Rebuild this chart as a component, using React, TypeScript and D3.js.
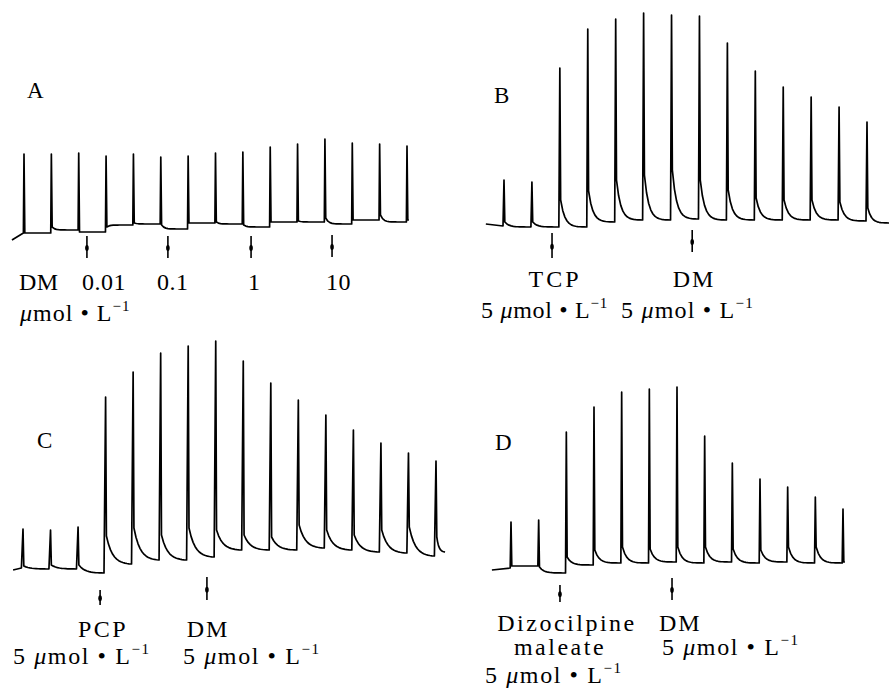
import React from "react";
import * as d3 from "d3";

// Isolated ileum contractions, levels in recording units (0 = zero line of each panel)
// A: DM alone, cumulative 0.01 - 10 umol/L
const aPeaks = [36.4, 36.4, 36.8, 35.6, 36.4, 35.2, 35.6, 36.8, 37.2, 39.2, 40.4, 42.4, 40.8, 40.4, 39.6];
const aTroughs = [4.8, 4.8, 6, 5.2, 8, 8.4, 6.4, 8.8, 8.4, 7.2, 9.2, 9.2, 8.4, 10, 9.2];
const aShoulders = [4.8, 7.2, 5.2, 7.2, 8.8, 8, 8.8, 9.2, 8, 9.2, 9.6, 10.8, 10, 12, 10];
const aMarks = [2.3, 5.26, 8.3, 11.26];
const aDoses = ["DM", "0.01", "0.1", "1", "10"];

// B: TCP then DM
const bPeaks = [22, 21.2, 66.8, 82.4, 86.4, 88.8, 88, 87.6, 76.8, 65.6, 59.2, 55.2, 51.2, 45.2];
const bTroughs = [3.6, 3.2, 3.2, 3.2, 5.2, 6, 6, 6.4, 6, 6, 6, 6, 6, 5.6];
const bShoulders = [5.2, 5.2, 14, 17.6, 22, 24, 26, 22, 18, 14.8, 14, 14, 13.2, 10.8];
const bMarks = [1.72, 6.74];
const bDrugs = ["TCP", "DM"];

// C: PCP then DM
const cPeaks = [20.4, 20, 21.2, 73.2, 83.2, 90.8, 93.6, 95.6, 87.6, 78.8, 72, 66, 60, 54.8, 50.8, 47.6];
const cTroughs = [4.8, 4.4, 4.4, 2.8, 6.4, 8, 8, 9.2, 12, 12, 12, 12.8, 12, 11.2, 10.8, 9.6];
const cShoulders = [5.6, 6, 6, 17.6, 20.8, 18, 20.8, 20, 18, 17.2, 22, 20, 18, 20, 21.2, 17.2];
const cMarks = [2.8, 6.68];
const cDrugs = ["PCP", "DM"];

// D: dizocilpine maleate then DM
const dPeaks = [23.2, 24, 59.2, 69.2, 75.2, 76.4, 77.2, 57.6, 46.8, 40.4, 37.2, 33.2, 28.4];
const dTroughs = [4.8, 5.6, 2.8, 6, 6.8, 6.8, 7.2, 6.8, 7.2, 6.8, 7.2, 6.8, 6.8];
const dShoulders = [5.6, 5.2, 9.2, 12, 13.2, 12.4, 13.2, 13.2, 12.4, 12, 13.2, 13.2, 7.2];
const dMarks = [1.77, 5.82];
const dDrugs = ["Dizocilpine", "maleate", "DM"];

const W = 889;
const H = 688;
const FONT = "'Liberation Serif', 'DejaVu Serif', serif";

type Panel = {
  peaks: number[];
  troughs: number[];
  shoulders: number[];
  marks: number[];
  first: number; // px of first spike
  last: number; // px of last spike
  zero: number; // px of zero line
  start: [number, number];
  end: [number, number];
  decay: number;
  rise: number;
  markTop: number[];
  markBottom: number[];
};

const panels: Panel[] = [
  { peaks: aPeaks, troughs: aTroughs, shoulders: aShoulders, marks: aMarks,
    first: 24, last: 407, zero: 245, start: [-0.44, 2], end: [14.07, 10],
    decay: 9, rise: 0.6, markTop: [-9, -9, -9, -10], markBottom: [13, 13, 13, 12] },
  { peaks: bPeaks, troughs: bTroughs, shoulders: bShoulders, marks: bMarks,
    first: 504, last: 867, zero: 235, start: [-0.65, 4.4], end: [13.84, 4.8],
    decay: 6, rise: 1, markTop: [-2, -5], markBottom: [23, 17] },
  { peaks: cPeaks, troughs: cTroughs, shoulders: cShoulders, marks: cMarks,
    first: 23, last: 436, zero: 580, start: [-0.36, 4], end: [15.33, 11.2],
    decay: 4, rise: 1.6, markTop: [10, -3], markBottom: [25, 20] },
  { peaks: dPeaks, troughs: dTroughs, shoulders: dShoulders, marks: dMarks,
    first: 511, last: 843, zero: 580, start: [-0.69, 4], end: [12.07, 7.2],
    decay: 6, rise: 0.8, markTop: [5, -2], markBottom: [22, 20] },
];

function tracePath(p: Panel) {
  const n = p.peaks.length;
  const x = d3.scaleLinear().domain([0, n - 1]).range([p.first, p.last]);
  const y = d3.scaleLinear().domain([0, 100]).range([p.zero, p.zero - 250]);
  const pts: [number, number][] = [[x(p.start[0]), y(p.start[1])]];
  for (let i = 0; i < n; i++) {
    const xi = x(i);
    pts.push([xi - p.rise, y(p.troughs[i])]);
    pts.push([xi, y(p.peaks[i])]);
    const fx = xi + 0.8;
    pts.push([fx, y(p.shoulders[i])]);
    const tx = i < n - 1 ? x(i + 1) - p.rise - 0.5 : x(p.end[0]);
    const tl = i < n - 1 ? p.troughs[i + 1] : p.end[1];
    const e1 = Math.exp(-p.decay);
    for (let k = 1; k <= 12; k++) {
      const t = k / 12;
      const f = (Math.exp(-p.decay * t) - e1) / (1 - e1);
      pts.push([fx + (tx - fx) * t, y(tl + (p.shoulders[i] - tl) * f)]);
    }
  }
  return { d: d3.line()(pts) || "", x };
}

const Unit = ({ x, y, lead = "", spacing = 1.6 }: { x: number; y: number; lead?: string; spacing?: number }) => (
  <text x={x} y={y} fontFamily={FONT} fontSize={24} letterSpacing={spacing}>
    {lead}
    <tspan fontStyle="italic">μ</tspan>
    {"mol • L"}
    <tspan dy={-10} fontSize={15}>−1</tspan>
  </text>
);

const Mark = ({ x, top, bottom }: { x: number; top: number; bottom: number }) => (
  <g>
    <line x1={x} x2={x} y1={top} y2={bottom} stroke="#000" strokeWidth={1.6} />
    <ellipse cx={x} cy={top + (bottom - top) * 0.55} rx={1.8} ry={3} fill="#000" />
  </g>
);

export default function App() {
  const traces = panels.map(tracePath);
  const label = { fontFamily: FONT, fontSize: 24, fill: "#000" };
  return (
    <svg width={W} height={H} style={{ position: "absolute", left: 0, top: 0, background: "#fff" }}>
      <rect width={W} height={H} fill="#fff" />
      {traces.map((t, i) => (
        <g key={i}>
          <path d={t.d} fill="none" stroke="#000" strokeWidth={1.7} strokeLinejoin="round" />
          {panels[i].marks.map((m, j) => (
            <Mark key={j} x={t.x(m)} top={panels[i].zero + panels[i].markTop[j]}
              bottom={panels[i].zero + panels[i].markBottom[j]} />
          ))}
        </g>
      ))}

      {/* panel letters */}
      <text x={27} y={98} {...label} fontSize={23}>A</text>
      <text x={494} y={103} {...label} fontSize={23}>B</text>
      <text x={37} y={448} {...label} fontSize={23}>C</text>
      <text x={495} y={450} {...label} fontSize={23}>D</text>

      {/* A */}
      {aDoses.map((s, i) => (
        <text key={s} x={[19, 82, 157, 248, 326][i]} y={290} {...label} letterSpacing={0.5}>{s}</text>
      ))}
      <Unit x={20} y={321} spacing={1} />

      {/* B */}
      <text x={555} y={287} {...label} textAnchor="middle" letterSpacing={3}>{bDrugs[0]}</text>
      <text x={694} y={287} {...label} textAnchor="middle" letterSpacing={2}>{bDrugs[1]}</text>
      <Unit x={481} y={318} lead="5 " spacing={0.7} />
      <Unit x={621} y={318} lead="5 " spacing={1.2} />

      {/* C */}
      <text x={103} y={637} {...label} textAnchor="middle" letterSpacing={2.5}>{cDrugs[0]}</text>
      <text x={208} y={637} {...label} textAnchor="middle" letterSpacing={2}>{cDrugs[1]}</text>
      <Unit x={13} y={664} lead="5 " />
      <Unit x={183} y={664} lead="5 " />

      {/* D */}
      <text x={567} y={631} {...label} textAnchor="middle" letterSpacing={2.5}>{dDrugs[0]}</text>
      <text x={560} y={655} {...label} textAnchor="middle" letterSpacing={2.5}>{dDrugs[1]}</text>
      <Unit x={485} y={683} lead="5 " />
      <text x={659} y={631} {...label} letterSpacing={2}>{dDrugs[2]}</text>
      <Unit x={662} y={655} lead="5 " />
    </svg>
  );
}
